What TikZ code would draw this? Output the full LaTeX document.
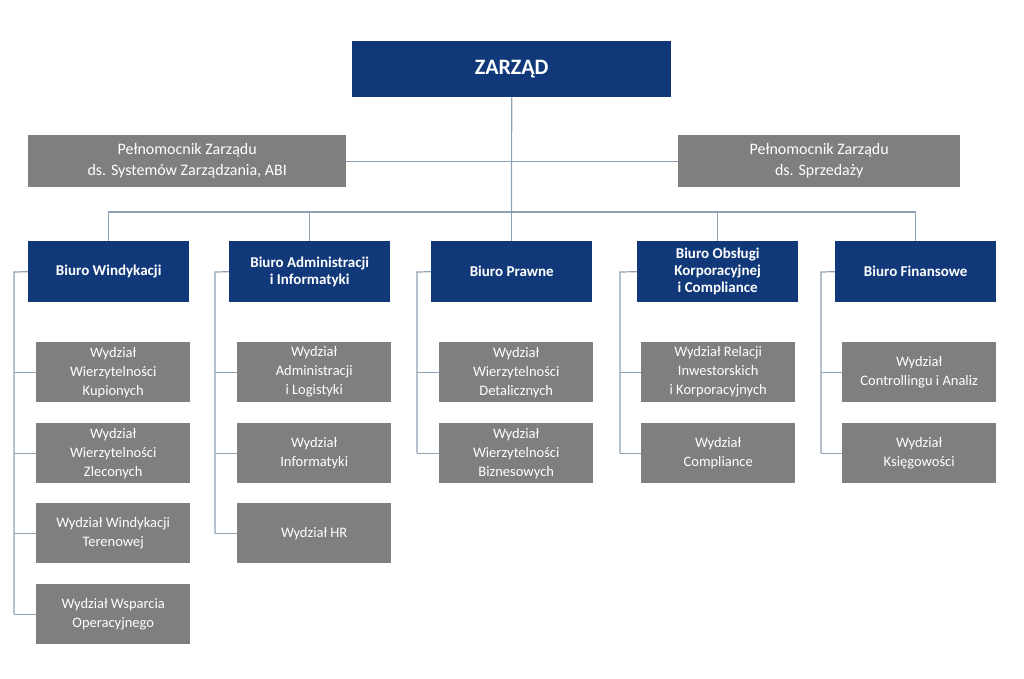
\documentclass[tikz,border=0pt]{standalone}
\usepackage{fontspec}
\setmainfont{Carlito}
\begin{document}
\begin{tikzpicture}[x=1pt,y=-1pt,
  ln/.style={draw=lnc,line width=1.2pt},
  nav/.style={fill=navc,text=white,font=\fontsize{15}{17}\selectfont\bfseries,align=center,inner sep=0pt,anchor=north west},
  gry/.style={fill=gryc,text=white,font=\fontsize{14.5}{19}\selectfont,align=center,inner sep=0pt,anchor=north west}]
\definecolor{navc}{HTML}{11397A}
\definecolor{gryc}{HTML}{7F7F7F}
\definecolor{lnc}{HTML}{8EA2B4}
\useasboundingbox (0,0) rectangle (1024,679);
\newcommand\bx[7]{\node[#1,minimum width=#4,minimum height=#5] (#2) at (#3) {#6};}
% top
\node[nav,minimum width=319,minimum height=56,font=\fontsize{22}{24}\selectfont\bfseries] (z) at (352,41) {ZARZĄD};
\node[gry,minimum width=318,minimum height=52,font=\fontsize{16}{21}\selectfont] (p1) at (28,135) {Pełnomocnik Zarządu\\ds. Systemów Zarządzania, ABI};
\node[gry,minimum width=282,minimum height=52,font=\fontsize{16}{21}\selectfont] (p2) at (678,135) {Pełnomocnik Zarządu\\ds. Sprzedaży};
\coordinate (zc) at (511.5,160);
\coordinate (hb) at (511.5,212);
\draw[ln] (z.south) -- (hb);
\draw[ln] (p1.east) -- (p2.west);
% biuros
\node[nav,minimum width=161,minimum height=61] (b1) at (28,241) {Biuro Windykacji};
\node[nav,minimum width=161,minimum height=61] (b2) at (229,241) {Biuro Administracji\\i Informatyki};
\node[nav,minimum width=161,minimum height=61] (b3) at (431,241) {Biuro Prawne};
\node[nav,minimum width=161,minimum height=61] (b4) at (637,241) {Biuro Obsługi\\Korporacyjnej\\i Compliance};
\node[nav,minimum width=161,minimum height=61] (b5) at (835,241) {Biuro Finansowe};
\draw[ln] (b1.north) -- (b1.north|-hb) -- (b5.north|-hb) -- (b5.north);
\foreach \b in {b2,b3,b4}{\draw[ln] (\b.north) -- (\b.north|-hb);}
% children
\foreach \c/\x/\y/\t in {
 c11/36/342/{Wydział\\Wierzytelności\\Kupionych},
 c12/36/423/{Wydział\\Wierzytelności\\Zleconych},
 c13/36/503/{Wydział Windykacji\\Terenowej},
 c14/36/584/{Wydział Wsparcia\\Operacyjnego},
 c21/237/342/{Wydział\\Administracji\\i Logistyki},
 c22/237/423/{Wydział\\Informatyki},
 c23/237/503/{Wydział HR},
 c31/439/342/{Wydział\\Wierzytelności\\Detalicznych},
 c32/439/423/{Wydział\\Wierzytelności\\Biznesowych},
 c41/641/342/{Wydział Relacji\\Inwestorskich\\i Korporacyjnych},
 c42/641/423/{Wydział\\Compliance},
 c51/842/342/{Wydział\\Controllingu i Analiz},
 c52/842/423/{Wydział\\Księgowości}}{
 \node[gry,minimum width=154,minimum height=60] (\c) at (\x,\y) {\t};}
\foreach \b/\lx/\last/\kids in {b1/14/c14/{c11,c12,c13,c14}, b2/215/c23/{c21,c22,c23}, b3/417/c32/{c31,c32}, b4/620/c42/{c41,c42}, b5/821/c52/{c51,c52}}{
 \coordinate (t\b) at (\lx,272);
 \draw[ln] (\b.west) -- (t\b) -- (t\b|-\last.west);
 \foreach \k in \kids {\draw[ln] (\k.west) -- (\k.west-|t\b);}
}
\end{tikzpicture}
\end{document}
